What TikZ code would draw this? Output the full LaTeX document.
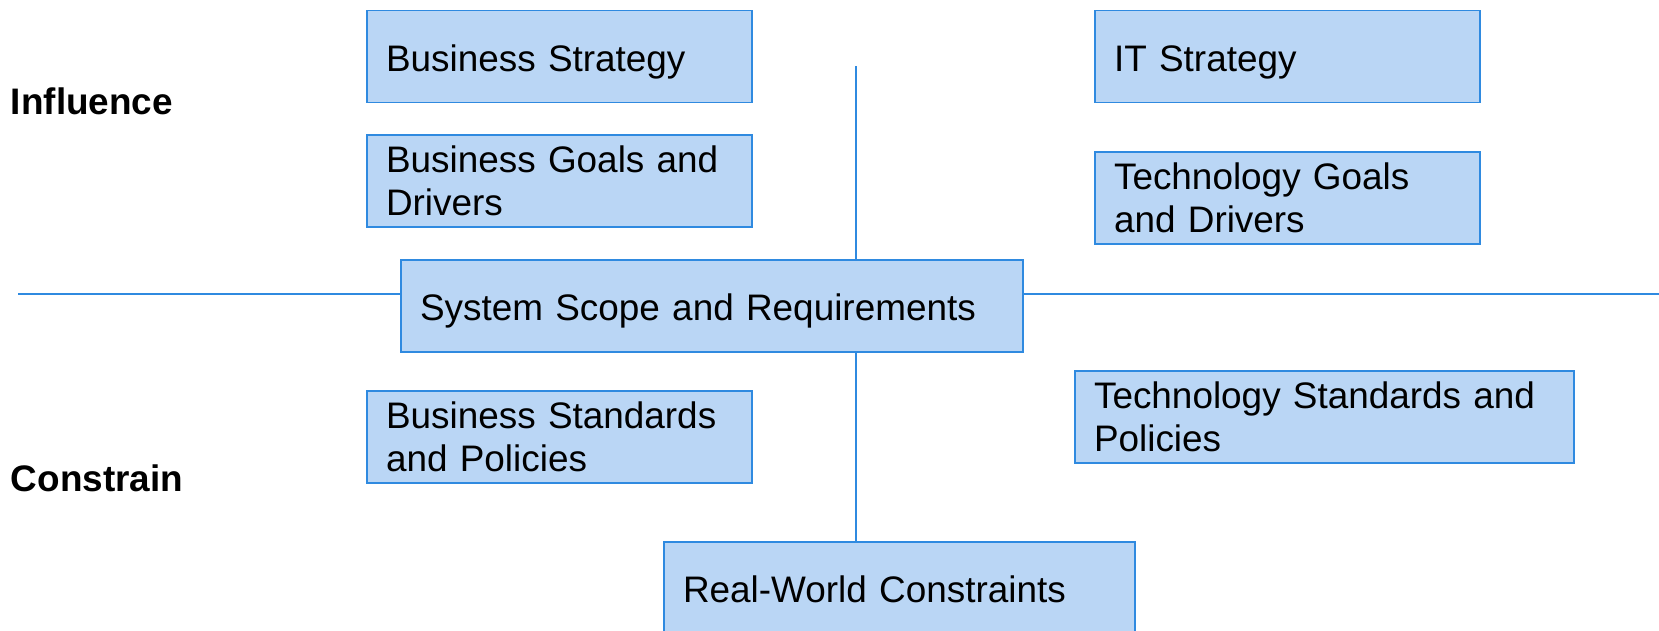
\documentclass[tikz,border=0pt]{standalone}
\usepackage{fontspec}
\setmainfont{Liberation Sans}
\usepackage{xcolor}
\usepackage{tikz}
\usetikzlibrary{positioning,calc}

\definecolor{boxfill}{HTML}{BAD6F5}
\definecolor{boxline}{HTML}{2F8AE0}

\begin{document}
\begin{tikzpicture}[outer sep=0pt,
    box/.style={draw=boxline, line width=1.1pt, fill=boxfill, rectangle, anchor=north west,
        inner xsep=0.38cm, inner ysep=0pt, minimum height=1.84cm, align=left,
        font=\fontsize{21}{24.7}\selectfont},
    oneline/.style={text height=0.74cm, text depth=0.15cm},
    axis/.style={draw=boxline, line width=1.1pt},
    side/.style={anchor=west, inner sep=0pt, font=\fontsize{21}{24.7}\selectfont\bfseries}]
    \useasboundingbox (0,0) rectangle (33.18,-12.6);

    % left column: business side
    \node [box, oneline, text width=6.94cm] (bstrat) at (7.34,-0.21) {Business Strategy};
    \node [box, text width=6.94cm] (bgoals) at (7.34,-2.70) {Business Goals and\\Drivers};
    \node [box, text width=6.94cm] (bstd) at (7.34,-7.82) {Business Standards\\and Policies};

    % right column: technology side
    \node [box, oneline, text width=6.94cm] (itstrat) at (21.9,-0.21) {IT Strategy};
    \node [box, text width=6.94cm] (tgoals) at (21.9,-3.04) {Technology Goals\\and Drivers};
    \node [box, text width=9.22cm] (tstd) at (21.5,-7.42) {Technology Standards and\\Policies};

    % centre and bottom
    \node [box, oneline, text width=11.68cm] (scope) at (8.02,-5.2) {System Scope and Requirements};
    \node [box, oneline, text width=8.66cm] (realworld) at (13.28,-10.84) {Real-World Constraints};

    \node [side] (influence) at (0.22,-2.02) {Influence};
    \node [side] (constrain) at (0.22,-9.56) {Constrain};

    % axes through the scope box
    \coordinate (hleft) at (0.36,-5.88);
    \coordinate (hright) at (33.18,-5.88);
    \coordinate (vtop) at (17.12,-1.32);
    \draw [axis] (hleft) -- (scope.west |- hleft);
    \draw [axis] (scope.east |- hleft) -- (hright);
    \draw [axis] (vtop) -- (vtop |- scope.north);
    \draw [axis] (vtop |- scope.south) -- (vtop |- realworld.north);
\end{tikzpicture}
\end{document}
